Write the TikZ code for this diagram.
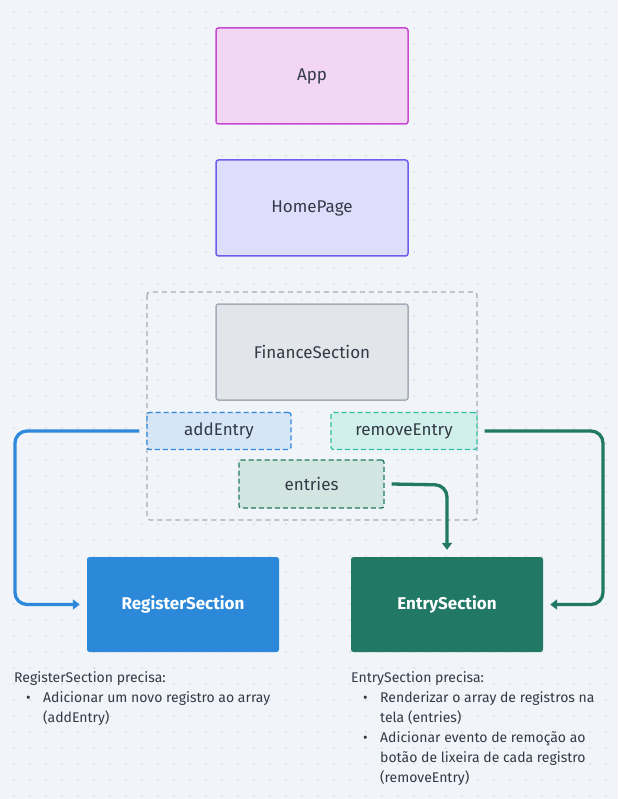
\documentclass[tikz,border=0pt]{standalone}
\usepackage{fontspec}
\setmainfont{Fira Sans}
\usetikzlibrary{arrows.meta}
\definecolor{bg}{HTML}{F1F4F8}
\definecolor{dotc}{HTML}{CFD5DD}
\definecolor{txt}{HTML}{333A47}
\definecolor{appfill}{HTML}{F2D6F4}
\definecolor{appline}{HTML}{C64AD2}
\definecolor{homefill}{HTML}{DEDDFB}
\definecolor{homeline}{HTML}{6B60EE}
\definecolor{finfill}{HTML}{E2E6EA}
\definecolor{finline}{HTML}{A3ACB8}
\definecolor{addfill}{HTML}{D6E6F6}
\definecolor{blueline}{HTML}{2E88DC}
\definecolor{remfill}{HTML}{D1F0EB}
\definecolor{remline}{HTML}{2FBFA6}
\definecolor{entfill}{HTML}{D3E5E0}
\definecolor{greenline}{HTML}{207865}
\definecolor{regfill}{HTML}{2C88D9}
\tikzset{
  box/.style={rectangle, rounded corners=2.5pt, line width=1.5pt, minimum width=192pt, minimum height=96pt, inner sep=0pt, font=\fontsize{17}{20}\selectfont, text=txt},
  tag/.style={rectangle, rounded corners=2.5pt, line width=1.3pt, dash pattern=on 5pt off 3pt, inner sep=0pt, font=\fontsize{17}{20}\selectfont, text=txt},
  solidbox/.style={rectangle, rounded corners=2.5pt, minimum width=192pt, minimum height=95pt, inner sep=0pt, font=\fontsize{17}{20}\selectfont\bfseries, text=white},
  conn/.style={line width=3.3pt, rounded corners=12pt, -{Triangle[length=7pt,width=10pt]}},
  note/.style={anchor=north west, align=left, inner sep=0pt, text=txt, font=\fontsize{14}{20}\selectfont}
}
\begin{document}
\begin{tikzpicture}[x=1pt,y=-1pt]
\fill[bg] (0,0) rectangle (618,799);
\useasboundingbox (0,0) rectangle (618,799);
\foreach \i in {0,...,38}{\foreach \j in {0,...,49}{\fill[dotc] (14+16*\i,12+16*\j) circle (0.8pt);}}
% group
\draw[finline, line width=1.3pt, dash pattern=on 5pt off 4pt, rounded corners=3pt] (147,292) rectangle (477,520);
\node[box, fill=appfill, draw=appline] (app) at (312,76) {App};
\node[box, fill=homefill, draw=homeline] (home) at (312,208) {HomePage};
\node[box, fill=finfill, draw=finline] (fin) at (312,352) {FinanceSection};
\node[tag, fill=addfill, draw=blueline, minimum width=144pt, minimum height=37pt] (add) at (219,431) {addEntry};
\node[tag, fill=remfill, draw=remline, minimum width=146pt, minimum height=37pt] (rem) at (404,431) {removeEntry};
\node[tag, fill=entfill, draw=greenline, minimum width=145pt, minimum height=48pt] (ent) at (311.5,484) {entries};
\node[solidbox, fill=regfill] (reg) at (183,604.5) {RegisterSection};
\node[solidbox, fill=greenline] (es) at (447,604.5) {EntrySection};
% connectors
\draw[conn, blueline] ([xshift=-7pt]add.west) -- (15,431) -- (15,604.5) -- ([xshift=-7pt]reg.west);
\draw[conn, greenline] ([xshift=7pt]rem.east) -- (603,431) -- (603,604.5) -- ([xshift=7pt]es.east);
\draw[conn, greenline] ([xshift=7pt]ent.east) -- (447,485) -- ([yshift=7pt]es.north);
% notes
\node[note] (regnote) at (14,671) {RegisterSection precisa:\\
\hspace*{12pt}\makebox[17pt][l]{•}Adicionar um novo registro ao array\\
\hspace*{29pt}(addEntry)};
\node[note] (esnote) at (351,671) {EntrySection precisa:\\
\hspace*{12pt}\makebox[17pt][l]{•}Renderizar o array de registros na\\
\hspace*{29pt}tela (entries)\\
\hspace*{12pt}\makebox[17pt][l]{•}Adicionar evento de remoção ao\\
\hspace*{29pt}botão de lixeira de cada registro\\
\hspace*{29pt}(removeEntry)};
\end{tikzpicture}
\end{document}
